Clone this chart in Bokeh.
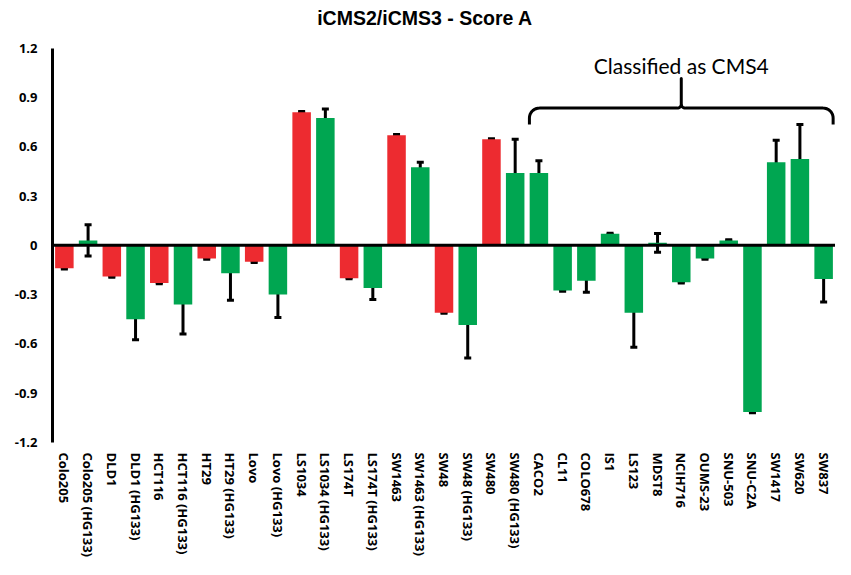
import numpy as np
from bokeh.plotting import figure
from bokeh.models import (FactorRange, Range1d, ColumnDataSource, Whisker, TeeHead,
                          Span, FixedTicker, CustomJSTickFormatter)
from bokeh.core.properties import value
from bokeh.embed import file_html
from bokeh.resources import INLINE

# ---------------- data ----------------
cell_lines = ["Colo205", "Colo205 (HG133)", "DLD1", "DLD1 (HG133)", "HCT116", "HCT116 (HG133)",
              "HT29", "HT29 (HG133)", "Lovo", "Lovo (HG133)", "LS1034", "LS1034 (HG133)",
              "LS174T", "LS174T (HG133)", "SW1463", "SW1463 (HG133)", "SW48", "SW48 (HG133)",
              "SW480", "SW480 (HG133)", "CACO2", "CL11", "COLO678", "IS1", "LS123", "MDST8",
              "NCIH716", "OUMS-23", "SNU-503", "SNU-C2A", "SW1417", "SW620", "SW837"]
scores = [-0.14, 0.03, -0.19, -0.45, -0.23, -0.36, -0.08, -0.17, -0.10, -0.30,
          0.81, 0.775, -0.20, -0.26, 0.67, 0.475, -0.41, -0.485, 0.645, 0.44,
          0.44, -0.275, -0.215, 0.07, -0.41, 0.015, -0.225, -0.08, 0.03, -1.015,
          0.505, 0.525, -0.205]
errors = [0.004, 0.095, 0.004, 0.125, 0.004, 0.18, 0.004, 0.165, 0.004, 0.14,
          0.004, 0.055, 0.004, 0.07, 0.004, 0.03, 0.004, 0.2, 0.004, 0.205,
          0.075, 0.004, 0.07, 0.004, 0.21, 0.057, 0.004, 0.004, 0.004, 0.004,
          0.135, 0.21, 0.14]
red_lines = ["Colo205", "DLD1", "HCT116", "HT29", "Lovo", "LS1034", "LS174T",
             "SW1463", "SW48", "SW480"]
cms4_first, cms4_last = "CACO2", "SW837"
cms4_label = "Classified as CMS4"
title_text = "iCMS2/iCMS3 - Score A"
y_ticks = [-1.2, -0.9, -0.6, -0.3, 0.0, 0.3, 0.6, 0.9, 1.2]

RED = "#ED2B30"
GREEN = "#00A651"

colors = [RED if c in red_lines else GREEN for c in cell_lines]
src = ColumnDataSource(dict(
    x=cell_lines, top=scores, color=colors,
    upper=[s + e for s, e in zip(scores, errors)],
    lower=[s - e for s, e in zip(scores, errors)],
))

# frame reaches the top of the canvas; headroom above 1.2 holds title & bracket
Y_MIN, Y_MAX = -1.2, 1.49
p = figure(width=835, height=559, x_range=FactorRange(*cell_lines),
           y_range=Range1d(Y_MIN, Y_MAX), output_backend="svg", toolbar_location=None,
           min_border_left=52, min_border_right=0, min_border_top=0, min_border_bottom=0)
p.outline_line_color = None
p.xgrid.visible = False
p.ygrid.visible = False

p.vbar(x="x", top="top", bottom=0, width=0.78, color="color", source=src, line_color=None)

p.add_layout(Span(location=0, dimension="width", line_color="black", line_width=3))

wh = Whisker(base="x", upper="upper", lower="lower", source=src,
             line_color="black", line_width=3,
             upper_head=TeeHead(size=7, line_width=3, line_color="black"),
             lower_head=TeeHead(size=7, line_width=3, line_color="black"))
p.add_layout(wh)

# ---------------- bracket ----------------
ref = cms4_first
def center(c):
    return cell_lines.index(c) + 0.5
xl = center(cms4_first) - 0.4
xr = center(cms4_last) + 0.4
xt = (xl + xr) / 2
y_end, y_bar, y_tip = 0.735, 0.835, 1.015
rx, ry = 0.42, 0.06
rx2, ry2 = 0.17, 0.024

def arc(cx, cy, ax, ay, t0, t1, n=12):
    t = np.linspace(t0, t1, n)
    return list(cx + ax * np.cos(t)), list(cy + ay * np.sin(t))

bx, by = [xl], [y_end]
ax_, ay_ = arc(xl + rx, y_bar - ry, rx, ry, np.pi, np.pi / 2); bx += ax_; by += ay_
ax_, ay_ = arc(xt - rx2, y_bar + ry2, rx2, ry2, -np.pi / 2, 0); bx += ax_; by += ay_
bx += [xt]; by += [y_tip]
ax_, ay_ = arc(xt + rx2, y_bar + ry2, rx2, ry2, np.pi, 1.5 * np.pi); bx += ax_; by += ay_
ax_, ay_ = arc(xr - rx, y_bar - ry, rx, ry, np.pi / 2, 0); bx += ax_; by += ay_
bx += [xr]; by += [y_end]
c0 = center(ref)
p.line(x=[(ref, float(v - c0)) for v in bx], y=by, line_color="black", line_width=3,
       line_join="round")

p.text(x=[(ref, float(xt - c0))], y=[1.096], text=[cms4_label], text_align="center",
       text_baseline="middle", text_font=value("Lato"), text_font_size="21px",
       text_color="black")

# ---------------- title ----------------
mid = cell_lines[15]
p.text(x=[(mid, 0.2)], y=[1.384], text=[title_text], text_align="center",
       text_baseline="middle", text_font=value("Liberation Sans"),
       text_font_style="bold", text_font_size="19.5px", text_color="black")

# ---------------- axes ----------------
p.yaxis.ticker = FixedTicker(ticks=y_ticks)
p.yaxis.bounds = (-1.2, 1.2)
p.yaxis.formatter = CustomJSTickFormatter(code="return tick == 0 ? '0' : tick.toFixed(1);")
p.yaxis.axis_line_width = 3
p.yaxis.axis_line_color = "black"
p.yaxis.major_tick_line_color = None
p.yaxis.minor_tick_line_color = None
p.yaxis.major_tick_out = 0
p.yaxis.major_label_standoff = 15
p.yaxis.major_label_text_font = "Open Sans"
p.yaxis.major_label_text_font_style = "bold"
p.yaxis.major_label_text_font_size = "13px"
p.yaxis.major_label_text_color = "black"

p.xaxis.axis_line_color = None
p.xaxis.major_tick_line_color = None
p.xaxis.minor_tick_line_color = None
p.xaxis.major_tick_out = 0
p.xaxis.major_label_standoff = 10
p.xaxis.major_label_orientation = "vertical"
p.xaxis.major_label_text_font = "Open Sans"
p.xaxis.major_label_text_font_style = "bold"
p.xaxis.major_label_text_font_size = "13px"
p.xaxis.major_label_text_color = "black"

open("out.html", "w").write(file_html(p, INLINE))
